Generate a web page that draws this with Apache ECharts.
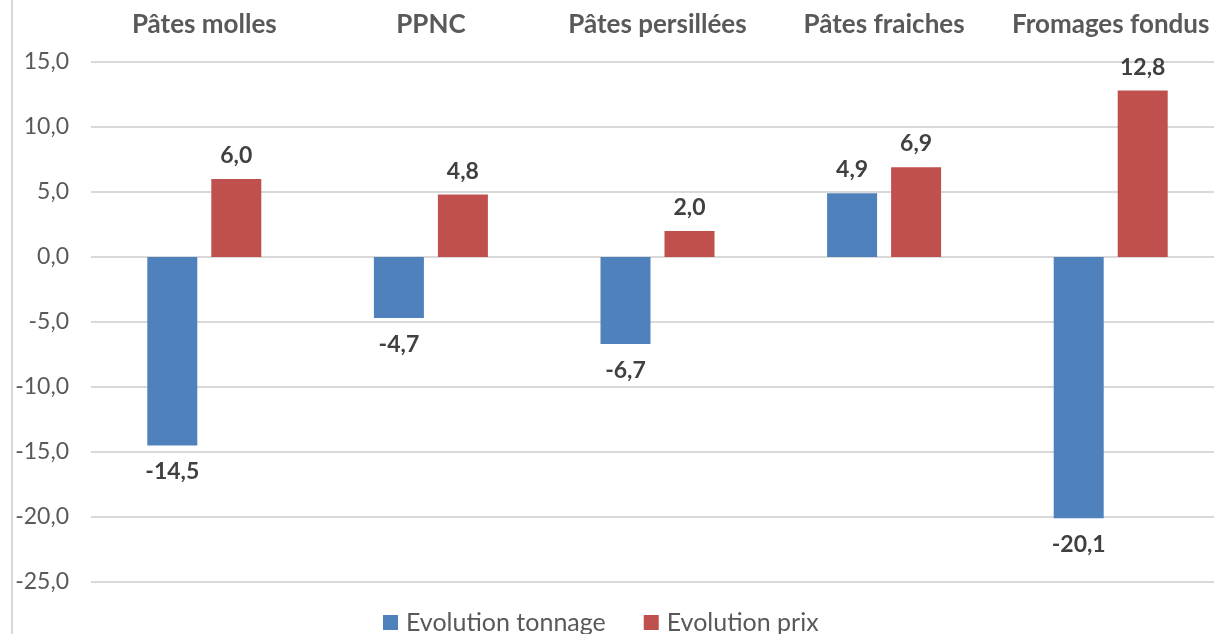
<!DOCTYPE html>
<html>
<head>
<meta charset="utf-8">
<script src="https://cdn.jsdelivr.net/npm/echarts@6/dist/echarts.min.js"></script>
<style>
  html, body { margin: 0; padding: 0; background: #fff; overflow: hidden; }
  /* plot area runs a little past the right edge, like the cropped original */
  #chart { width: 1230px; height: 634px; }
</style>
</head>
<body>
<div id="chart"></div>
<script>
// categories + series
var categories = ['Pâtes molles', 'PPNC', 'Pâtes persillées', 'Pâtes fraiches', 'Fromages fondus'];
var tonnage = [-14.5, -4.7, -6.7, 4.9, -20.1];
var prix = [6.0, 4.8, 2.0, 6.9, 12.8];
var yTicks = { min: -25, max: 15, interval: 5 };

var fmt = function (v) {
  return v.toFixed(1).replace('.', ',');
};

var labelStyle = {
  show: true,
  fontFamily: 'Lato',
  fontWeight: 'bold',
  fontSize: 23,
  color: '#404040',
  formatter: function (p) { return fmt(p.value); }
};

// negative bars get their label under the bar end
var toItems = function (arr) {
  return arr.map(function (v) {
    return {
      value: v,
      label: v < 0 ? { position: 'bottom', distance: 15 } : { position: 'top', distance: 12 }
    };
  });
};

var chart = echarts.init(document.getElementById('chart'));
chart.setOption({
  animation: false,
  textStyle: { fontFamily: 'Lato' },
  graphic: [{
    type: 'line',
    shape: { x1: 12, y1: 0, x2: 12, y2: 634 },
    style: { stroke: '#d9d9d9', lineWidth: 2 }
  }],
  grid: { left: 91, right: 6, top: 62, bottom: 52 },
  legend: {
    top: 605,
    left: 378,
    itemWidth: 15,
    itemHeight: 15,
    itemGap: 38,
    icon: 'rect',
    textStyle: { fontSize: 25, color: '#595959', fontFamily: 'Lato', padding: [0, 0, 0, 3] },
    data: ['Evolution tonnage', 'Evolution prix']
  },
  xAxis: {
    type: 'category',
    position: 'top',
    data: categories,
    axisLine: { show: false },
    axisTick: { show: false },
    axisLabel: {
      fontSize: 26,
      fontWeight: 'bold',
      color: '#595959',
      margin: 24,
      interval: 0
    }
  },
  yAxis: {
    type: 'value',
    min: yTicks.min,
    max: yTicks.max,
    interval: yTicks.interval,
    axisLine: { show: false },
    axisTick: { show: false },
    axisLabel: {
      fontSize: 23,
      color: '#595959',
      margin: 22,
      formatter: fmt
    },
    splitLine: { lineStyle: { color: '#d9d9d9', width: 2 } }
  },
  series: [{
    name: 'Evolution tonnage',
    type: 'bar',
    data: toItems(tonnage),
    barWidth: 50,
    barGap: '28%',
    itemStyle: { color: '#4F81BD' },
    label: labelStyle
  }, {
    name: 'Evolution prix',
    type: 'bar',
    data: toItems(prix),
    barWidth: 50,
    itemStyle: { color: '#C0504D' },
    label: labelStyle
  }]
});
</script>
</body>
</html>
